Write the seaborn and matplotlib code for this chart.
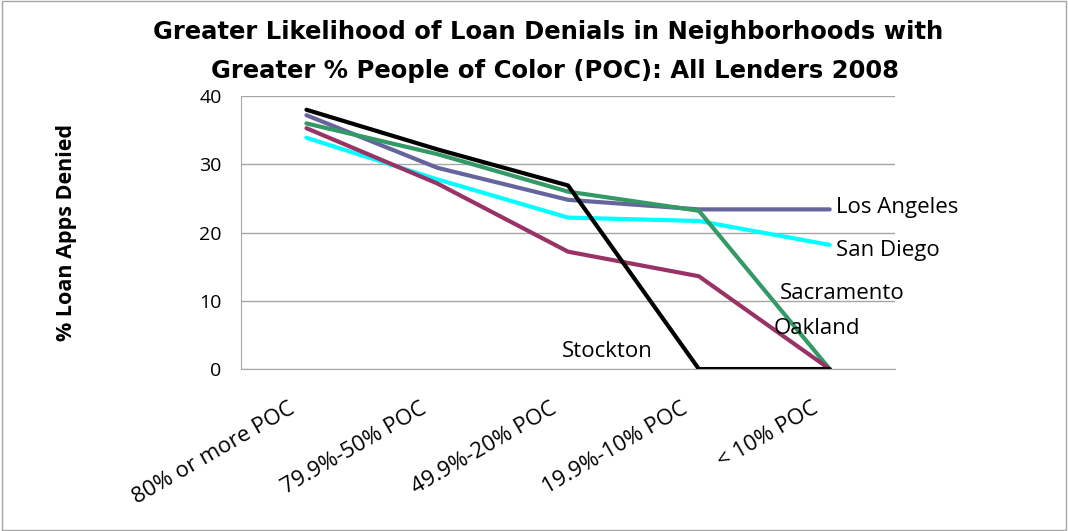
import pandas as pd
import seaborn as sns
import matplotlib.pyplot as plt
import matplotlib.transforms as mtransforms

# dados
categorias = ['80% or more POC', '79.9%-50% POC', '49.9%-20% POC', '19.9%-10% POC', '< 10% POC']
los_angeles = [37.2, 29.5, 24.8, 23.4, 23.4]
san_diego = [33.9, 27.8, 22.2, 21.7, 18.2]
sacramento = [36.0, 31.5, 26.0, 23.2, 0.0]
oakland = [35.3, 27.2, 17.2, 13.6, 0.0]
stockton = [38.0, 32.2, 26.9, 0.0, 0.0]

series = {'Los Angeles': los_angeles, 'San Diego': san_diego, 'Sacramento': sacramento,
          'Oakland': oakland, 'Stockton': stockton}
cores = {'Los Angeles': '#65659c', 'San Diego': '#00ffff', 'Sacramento': '#339966',
         'Oakland': '#993366', 'Stockton': '#000000'}

df = pd.DataFrame([
    {'cat': i, 'cidade': nome, 'valor': v}
    for nome, vals in series.items() for i, v in enumerate(vals)
])

sns.set_style('white')
plt.rcParams['font.family'] = ['Open Sans', 'DejaVu Sans']
plt.rcParams['text.color'] = 'black'
plt.rcParams['axes.labelcolor'] = 'black'
plt.rcParams['xtick.color'] = 'black'
plt.rcParams['ytick.color'] = 'black'

fig = plt.figure(figsize=(10.68, 5.31), dpi=100)
ax = fig.add_axes([0.2257, 0.305, 0.6124, 0.514])

sns.lineplot(data=df, x='cat', y='valor', hue='cidade', palette=cores,
             linewidth=3, legend=False, ax=ax)

ax.set_xlim(-0.5, 4.5)
ax.set_ylim(0, 40)
ax.set_yticks([0, 10, 20, 30, 40])
ax.yaxis.grid(True, color='#a6a6a6', linewidth=1)
ax.set_axisbelow(True)
ax.tick_params(axis='y', length=0, labelsize=14, pad=14)
ax.tick_params(axis='x', length=0, labelsize=16, pad=0)
ax.set_xticks(range(len(categorias)))
ax.set_xticklabels(categorias, rotation=30, ha='right', rotation_mode='anchor')
desloc = mtransforms.ScaledTranslation(-0.18, -0.29, fig.dpi_scale_trans)
for lab in ax.get_xticklabels():
    lab.set_transform(lab.get_transform() + desloc)
for lado in ['top', 'right']:
    ax.spines[lado].set_visible(False)
for lado in ['left', 'bottom']:
    ax.spines[lado].set_color('#a6a6a6')
ax.set_xlabel('')
ax.set_ylabel('% Loan Apps Denied', fontsize=15.5, fontweight='bold', labelpad=88)

# rótulos das séries
ax.text(4.05, 23.7, 'Los Angeles', fontsize=16, va='center')
ax.text(4.05, 17.4, 'San Diego', fontsize=16, va='center')
ax.text(3.62, 11.1, 'Sacramento', fontsize=16, va='center')
ax.text(3.57, 6.0, 'Oakland', fontsize=16, va='center')
ax.text(1.95, 2.5, 'Stockton', fontsize=16, va='center')

# título em duas linhas
fig.text(0.513, 0.9266, 'Greater Likelihood of Loan Denials in Neighborhoods with',
         family='DejaVu Sans', fontsize=17.5, fontweight='bold', ha='center', va='baseline')
fig.text(0.52, 0.853, 'Greater % People of Color (POC): All Lenders 2008',
         family='DejaVu Sans', fontsize=17.5, fontweight='bold', ha='center', va='baseline')

fig.patches.append(plt.Rectangle((0.002, 0.002), 0.996, 0.996, transform=fig.transFigure,
                                 fill=False, edgecolor='#a6a6a6', linewidth=1))

plt.savefig('out.png', dpi=100)
